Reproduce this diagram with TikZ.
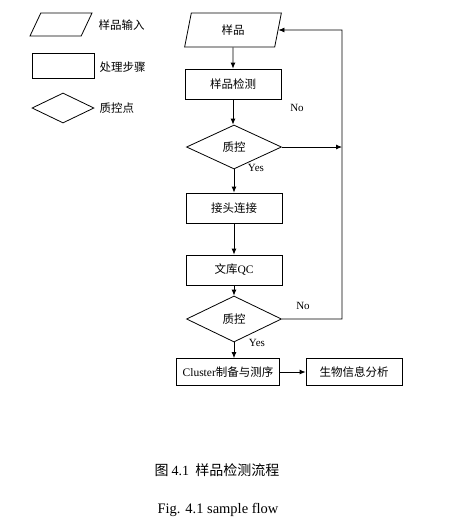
\documentclass[tikz,border=0pt]{standalone}
\usepackage{fontspec}
\setmainfont{Liberation Serif}
\newfontfamily\cjk{Noto Sans CJK SC}
\usetikzlibrary{shapes.geometric,arrows.meta,positioning,calc}
\tikzset{
  proc/.style ={draw,line width=0.8pt,minimum width=96pt,minimum height=30pt,inner sep=1pt,font=\cjk\fontsize{11.5}{13}\selectfont},
  inp/.style  ={draw,line width=0.8pt,trapezium,trapezium left angle=81,trapezium right angle=99,
                trapezium stretches=true,minimum width=97pt,minimum height=34pt,inner sep=1pt,font=\cjk\fontsize{11.5}{13}\selectfont},
  qc/.style   ={draw,line width=0.8pt,diamond,minimum width=95pt,minimum height=44pt,inner sep=0pt,font=\cjk\fontsize{11.5}{13}\selectfont},
  arr/.style  ={line width=0.8pt,-{Latex[length=6pt,width=5pt]}},
  lab/.style  ={font=\fontsize{11}{13}\selectfont},
  leg/.style  ={anchor=west,font=\cjk\fontsize{11.5}{13}\selectfont},
}
\begin{document}
\begin{tikzpicture}[x=1pt,y=-1pt]
\useasboundingbox (0,0) rectangle (454,523);
% legend
\node[inp,trapezium left angle=75,trapezium right angle=105,minimum width=62pt,minimum height=23pt] (lp) at (61,24.5) {};
\node[proc,minimum width=62pt,minimum height=25pt] (lr) at (63,66) {};
\node[qc,minimum width=62pt,minimum height=30pt] (ld) at (63,108) {};
\node[leg] (lpt) at (95,25) {样品输入};
\node[leg] (lrt) at (96,67) {处理步骤};
\node[leg] (ldt) at (96,108) {质控点};
% main flow
\node[inp] (yp) at (233,30) {样品};
\node[proc] (jc) at (233,84) {样品检测};
\node[qc] (zk1) at (234,147) {质控};
\node[proc] (jt) at (234,208) {接头连接};
\node[proc] (wk) at (234,270) {文库{\rmfamily QC}};
\node[qc,minimum height=46pt] (zk2) at (234,319) {质控};
\node[proc,minimum width=103pt,minimum height=27pt] (cl) at (228,372) {{\rmfamily Cluster}制备与测序};
\node[proc,minimum height=27pt] (sx) at (354,372) {生物信息分析};
\coordinate (fb) at (342,30);
\draw[arr] (yp) -- (jc);
\draw[arr] (jc.south) -- (jc.south |- zk1.north);
\draw[arr] (zk1) -- (zk1.south |- jt.north);
\draw[arr] (jt) -- (wk);
\draw[arr] (wk) -- (zk2);
\draw[arr] (zk2) -- (zk2.south |- cl.north);
\draw[arr] (cl) -- (sx);
\draw[arr] (zk1.east) -- (zk1.east -| fb);
\draw[arr] (zk2.east) -| (fb) -- (yp.east);
\node[lab] (no1) at (297,108) {No};
\node[lab] (yes1) at (256,168) {Yes};
\node[lab] (no2) at (303,306) {No};
\node[lab] (yes2) at (257,343) {Yes};
% caption
\node[font=\cjk\fontsize{14}{16}\selectfont] (cap1) at (217,470) {图 {\rmfamily 4.1}\ \ 样品检测流程};
\node[font=\fontsize{14.5}{16}\selectfont] (cap2) at (218,510) {Fig. 4.1 sample flow};
\end{tikzpicture}
\end{document}
